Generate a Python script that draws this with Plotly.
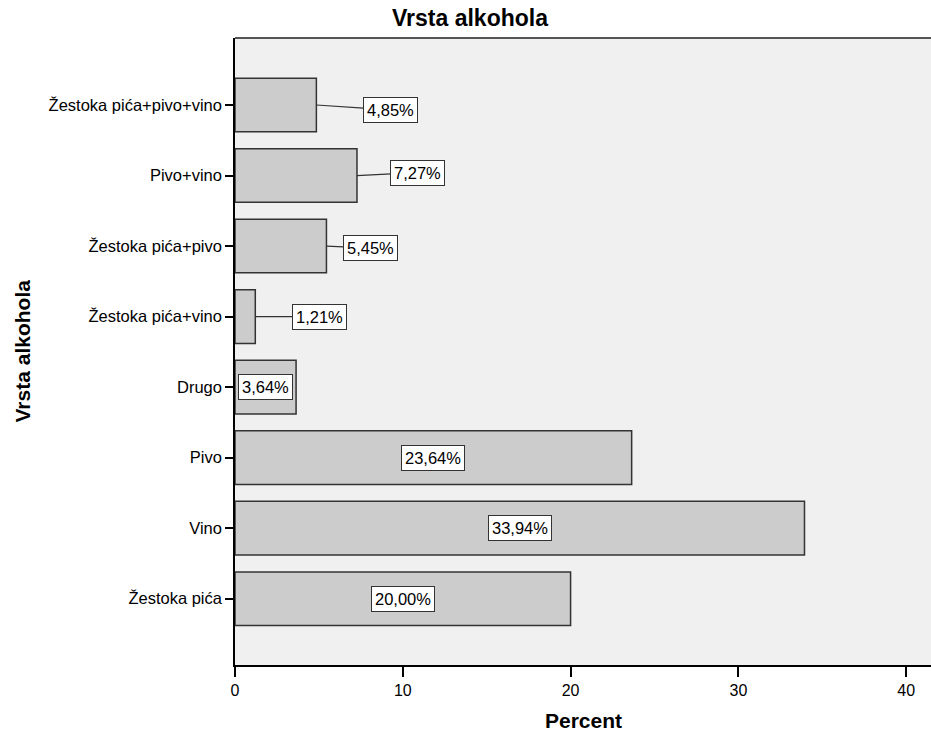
import plotly.graph_objects as go

# Data (bottom to top)
categories = ["Žestoka pića", "Vino", "Pivo", "Drugo", "Žestoka pića+vino",
              "Žestoka pića+pivo", "Pivo+vino", "Žestoka pića+pivo+vino"]
percent = [20.00, 33.94, 23.64, 3.64, 1.21, 5.45, 7.27, 4.85]
label_text = ["20,00%", "33,94%", "23,64%", "3,64%", "1,21%", "5,45%", "7,27%", "4,85%"]
x_ticks = [0, 10, 20, 30, 40]

# label placement style: None -> inside bar centre, else (dx, dy) pixel offset from bar end
label_offset_px = [None, None, None, None, (64, 0), (44, 2), (61, -3), (74, 5)]

FONT = "Liberation Sans, Arial, sans-serif"

fig = go.Figure()
fig.add_trace(go.Bar(
    y=categories, x=percent, orientation="h",
    width=0.76,
    marker=dict(color="#cccccc", line=dict(color="#333333", width=1.5)),
    hoverinfo="skip",
))

annotations = []
for cat, val, txt, off in zip(categories, percent, label_text, label_offset_px):
    common = dict(text=txt, y=cat, xref="x", yref="y",
                  font=dict(family=FONT, size=16.5, color="black"),
                  bgcolor="white", bordercolor="#333333", borderwidth=1, borderpad=3)
    if off is None:
        annotations.append(dict(x=val / 2, showarrow=False, **common))
    else:
        annotations.append(dict(x=val, showarrow=True, ax=off[0], ay=off[1],
                                arrowhead=0, arrowwidth=1.2, arrowcolor="#333333",
                                standoff=0, startstandoff=0, **common))

W, H = 931, 737
L, R, T, B = 235, 0, 38, 72
pw, ph = W - L - R, H - T - B

annotations.append(dict(text="<b>Vrsta alkohola</b>", xref="paper", yref="paper",
                        x=(22 - L) / pw, y=0.5, textangle=-90, showarrow=False,
                        xanchor="center", yanchor="middle",
                        font=dict(family=FONT, size=21, color="black")))
annotations.append(dict(text="<b>Percent</b>", xref="paper", yref="paper",
                        x=0.5, y=-(720 - (H - B)) / ph, showarrow=False,
                        xanchor="center", yanchor="middle",
                        font=dict(family=FONT, size=21, color="black")))

fig.update_layout(
    width=W, height=H,
    margin=dict(l=L, r=R, t=T, b=B),
    paper_bgcolor="white", plot_bgcolor="#f0f0f0",
    showlegend=False,
    title=dict(text="<b>Vrsta alkohola</b>", x=470 / W, xref="container", xanchor="center",
               y=1 - 18 / H, yref="container", yanchor="middle",
               font=dict(family=FONT, size=23, color="black")),
    font=dict(family=FONT, size=16, color="black"),
    annotations=annotations,
    shapes=[dict(type="line", xref="paper", yref="paper", x0=0, x1=1, y0=1, y1=1,
                 line=dict(color="#555555", width=2))],
)
fig.update_xaxes(range=[0, 41.48], tickvals=x_ticks, ticktext=[str(t) for t in x_ticks],
                 showgrid=False, zeroline=False, showline=True, linecolor="black", linewidth=1.5,
                 ticks="outside", ticklen=10, tickcolor="black", tickwidth=1.5,
                 tickfont=dict(family=FONT, size=16, color="black"))
fig.update_yaxes(type="category", categoryorder="array", categoryarray=categories,
                 range=[-0.94, 7.95], showgrid=False, zeroline=False,
                 showline=True, linecolor="black", linewidth=1.5,
                 ticks="outside", ticklen=8, tickcolor="black", tickwidth=1.5,
                 tickfont=dict(family=FONT, size=16.5, color="black"))

fig.write_html("out.html", config={"displayModeBar": False},
               post_script="document.body.style.margin='0';document.body.style.overflow='hidden';")
